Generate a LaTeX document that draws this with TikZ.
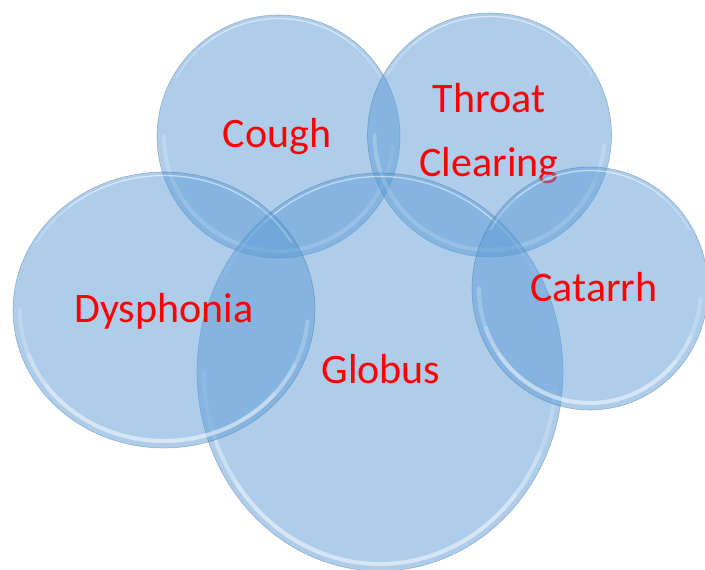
\documentclass[tikz,border=0pt]{standalone}
\usepackage{fontspec}
\setmainfont{Carlito}
\definecolor{bubbleblue}{HTML}{5B9BD5}
\begin{document}
\begin{tikzpicture}[x=1pt,y=1pt,
    bubble/.style={fill=bubbleblue,fill opacity=0.5},
    rim/.style={draw=bubbleblue!60!black,draw opacity=0.35,line width=0.6pt},
    shine/.style={draw=white,draw opacity=0.22,line width=4pt,line cap=round},
    gloss/.style={draw=white,draw opacity=0.3,line width=1.3pt,line cap=round},
    word/.style={text=red,font=\fontsize{42}{64}\selectfont,align=center,anchor=base}]
    \useasboundingbox (0,0) rectangle (705,570);
    % 円 (名前/中心/半径/文字の位置/文字)
    \foreach \nm/\cx/\cy/\rx/\ry/\tx/\ty/\txt in {
        cough/278.5/433.5/121.5/121.5/277/422/Cough,
        throat/489.5/435/122/122/489/393/{Throat\\Clearing},
        globus/380/198/183/199/381/186/Globus,
        dysphonia/164/260/151/138/164/247/Dysphonia,
        catarrh/590/281.5/118/121.5/594/268/Catarrh}{
      \pgfmathsetmacro\ax{\rx-7}
      \pgfmathsetmacro\ay{\ry-7}
      \pgfmathsetmacro\bx{\rx-3.5}
      \pgfmathsetmacro\by{\ry-3.5}
      \fill[bubble] (\cx,\cy) ellipse [x radius=\rx,y radius=\ry];
      \draw[rim] (\cx,\cy) ellipse [x radius=\rx,y radius=\ry];
      % 縁の光
      \foreach \a/\b in {180/355,200/335,215/320}
        \draw[shine,shift={(\cx,\cy)}] ({\ax*cos(\a)},{\ay*sin(\a)}) arc [start angle=\a,end angle=\b,x radius=\ax,y radius=\ay];
      \foreach \a/\b in {30/150,50/130}
        \draw[gloss,shift={(\cx,\cy)}] ({\bx*cos(\a)},{\by*sin(\a)}) arc [start angle=\a,end angle=\b,x radius=\bx,y radius=\by];
      \node[word] (\nm) at (\tx,\ty) {\txt};
    }
\end{tikzpicture}
\end{document}
